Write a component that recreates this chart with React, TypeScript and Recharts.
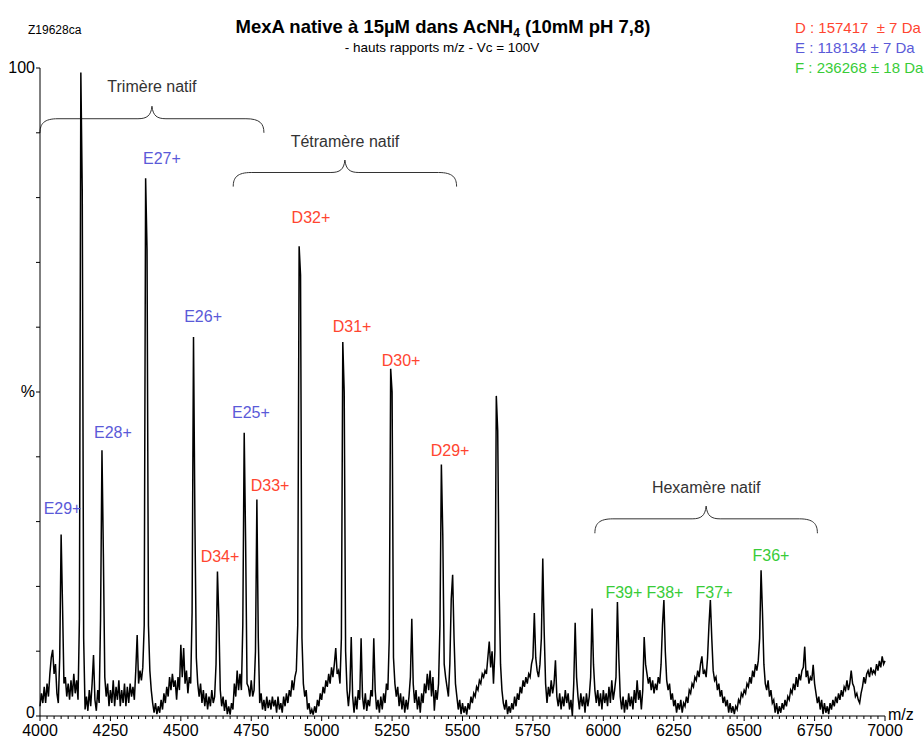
import React from 'react';
import { LineChart, Line, XAxis, YAxis, ReferenceArea, ReferenceDot } from 'recharts';

const FONT = '"Liberation Sans", Arial, sans-serif';
const W = 924;
const H = 738;

const MZ_START = 4000;
const MZ_STEP = 5;

const trace4000 = [
  1.5, 3.5, 2, 4.5, 2, 5, 3, 6.5, 9, 10.2,
  6.5, 8, 3.5, 2, 9, 28, 17, 5, 6, 3,
  5, 2.5, 5.5, 3, 6.5, 3.5, 5.5, 2.5, 15, 99.3,
  81, 12, 1, 3, 0.8, 4, 1.5, 5, 9.4, 2.5,
  0.8, 4, 2, 15, 41, 25, 6, 3, 5, 1.5,
];
const trace4250 = [
  4, 2, 5.5, 1.5, 4.5, 2.5, 5.5, 1.5, 4, 2,
  5, 1.5, 4.5, 2, 5, 3, 4.5, 2.5, 7, 12.5,
  5, 7, 5.5, 7.5, 14, 83, 72, 14, 7, 4,
  2, 0.5, 2, 0.3, 1.5, 0.5, 2.5, 1, 3.5, 2,
  4.5, 3, 6, 4, 6.5, 4.5, 5.5, 2.5, 6, 4,
];
const trace4500 = [
  11, 6, 10.5, 5, 7, 3.5, 6, 5, 16, 58.5,
  30, 9, 5, 3, 5, 2, 4, 1.5, 3.5, 1,
  3, 1.5, 4, 2, 3, 8, 22.3, 15, 4, 1.5,
  3, 0.8, 2.5, 0.3, 1.5, 0.2, 2, 1, 5, 3,
  7, 4, 6.5, 4, 14, 43.7, 27, 5, 4.5, 3,
];
const trace4750 = [
  5.5, 3, 4, 10, 33.4, 12, 2, 3.5, 1, 2.5,
  0.8, 3, 1.2, 2.5, 1, 3, 1.5, 2.5, 0.5, 3,
  1, 2, 0.5, 3, 1.5, 3.5, 2, 4, 3, 5.5,
  4, 6, 7, 14, 72.5, 68, 12, 5, 3, 4,
  1, 2, 0.3, 1, 0.2, 1.5, 0.5, 2.5, 1.5, 3.5,
];
const trace5000 = [
  2.5, 4.5, 3.5, 5.5, 4.5, 6.5, 5, 7.5, 6, 8,
  10.5, 6.5, 7, 5, 12, 57.7, 50, 10, 4, 1.5,
  4, 12.2, 3, 0.5, 3, 1, 4, 2.5, 12, 3,
  1, 3.5, 0.8, 2.5, 1.5, 4, 3, 12, 4, 1,
  2.5, 0.5, 3, 1, 3.5, 2, 5, 4, 12, 53.6,
];
const trace5250 = [
  50, 9, 5, 3, 4.5, 1.5, 3.5, 1, 3, 0.5,
  2.5, 1, 3, 6, 15, 5, 2, 4, 1, 3,
  0.5, 3.5, 2, 5, 3.5, 6.5, 4, 7, 3, 6,
  0.8, 4, 2.5, 5, 14, 38.8, 28, 8, 6, 4.5,
  3, 8, 18, 21.8, 12, 5, 3, 1, 2.5, 0.3,
];
const trace5500 = [
  2, 0.5, 1.5, 0.2, 2, 1, 3, 2, 3.5, 3,
  4.5, 4, 5.5, 5, 6.5, 6, 7, 6.5, 9, 11.5,
  7.5, 10, 5, 10, 49.4, 44, 20, 8, 4, 2,
  1, 2.5, 0.3, 1.5, 0.5, 2, 1, 3, 1.5, 3.5,
  2.5, 4.5, 3.5, 5.5, 4.5, 6, 5, 6.5, 6, 8,
];
const trace5750 = [
  9, 15.9, 9, 7, 6, 8, 12, 24.3, 13, 5,
  2, 4.5, 3, 5.5, 3.5, 5, 8.6, 3, 1.5, 3.5,
  1, 3, 1.5, 4, 2, 3.5, 1, 2.5, 0, 5,
  14.4, 6, 3, 1, 3.5, 1.5, 3, 0.5, 3.5, 1.5,
  3, 6, 16.6, 8, 4, 2, 4, 1.5, 3.5, 1,
];
const trace6000 = [
  4, 2, 3.5, 1.5, 4.5, 2, 5.5, 2.5, 4, 6,
  17.6, 9, 3, 1, 3, 0.5, 2.5, 1, 3.5, 1.5,
  3, 1, 4, 2, 5.5, 2.5, 4, 1, 4, 12.2,
  8, 6.5, 5, 6, 4, 5.5, 3.5, 5, 4, 6,
  5, 8, 14, 17.9, 10, 5.5, 4, 5, 2.5, 3.5,
];
const trace6250 = [
  1.5, 2.5, 0.5, 2, 1, 2.5, 0.5, 2, 1.5, 3,
  2, 4, 3.5, 5, 4.5, 6, 5.5, 7, 6, 8,
  9.2, 6.5, 7, 6, 9, 14, 17.9, 12, 7, 5.5,
  6, 4, 5, 3, 4, 2, 3, 1.5, 2.5, 0.5,
  2, 0.5, 1.5, 0.3, 1.5, 1, 2.5, 2, 3.5, 3,
];
const trace6500 = [
  4, 3.5, 5, 4.5, 6, 5, 7, 6, 8, 7,
  8.5, 12, 22.5, 16, 8, 5, 4, 5.5, 3, 4,
  2, 2.5, 0.5, 2, 0.3, 1.5, 0.5, 2, 1, 2.5,
  1.5, 3, 2.5, 4, 3.5, 5, 4, 6, 4.5, 6.5,
  5.5, 7, 7.5, 10.7, 6, 7, 5, 6, 5.5, 7.9,
];
const trace6750 = [
  5, 3.5, 2, 3, 1, 2.5, 0.3, 2, 0.5, 1.5,
  0.3, 2, 1, 2.5, 1.5, 3, 2, 3.5, 2.5, 4,
  3, 4.5, 4, 5.5, 4, 5, 7, 5, 4.5, 3,
  3.5, 2.5, 2, 3.5, 4.5, 6, 5, 6.5, 7, 6,
  7.5, 6.5, 7, 6.5, 8, 7, 8.5, 7.5, 9.2, 8,
  8.5,
];

// peak annotations: name, label centre (m/z, %)
const peakNames = ['E29+', 'E28+', 'E27+', 'E26+', 'D34+', 'E25+', 'D33+', 'D32+', 'D31+', 'D30+', 'D29+', 'F39+', 'F38+', 'F37+', 'F36+'];
const peakLabelMz = [4080, 4259, 4433, 4579, 4639, 4749, 4817, 4962, 5108, 5282, 5456, 6073, 6219, 6393, 6595];
const peakLabelPct = [32.1, 43.8, 86.1, 61.7, 24.7, 46.8, 35.6, 76.9, 60.2, 54.9, 41.0, 19.1, 19.1, 19.1, 24.8];

// oligomer braces
const braceNames = ['Trimère natif', 'Tétramère natif', 'Hexamère natif'];
const braceFrom = [4000, 4686, 5970];
const braceTo = [4795, 5479, 6760];
const braceBottom = [90.0, 81.7, 28.2];
const braceTop = [94.1, 85.8, 32.4];
const braceTextPct = [97.1, 88.6, 35.3];

const xMajorTicks = [4000, 4250, 4500, 4750, 5000, 5250, 5500, 5750, 6000, 6250, 6500, 6750, 7000];
const X_MINOR_STEP = 25;
const yTicks = [0, 10, 20, 30, 40, 50, 60, 70, 80, 90, 100];
const yTickLabels: Record<number, string> = { 0: '0', 50: '%', 100: '100' };

const series = [
  { key: 'D', text: 'D : 157417  ± 7 Da', color: '#ff4530' },
  { key: 'E', text: 'E : 118134 ± 7 Da', color: '#5a5ad8' },
  { key: 'F', text: 'F : 236268 ± 18 Da', color: '#38cc38' },
];
const colorOf = (name: string) => series.find(s => s.key === name[0])!.color;

const spectrum = [trace4000, trace4250, trace4500, trace4750, trace5000, trace5250, trace5500, trace5750, trace6000, trace6250, trace6500, trace6750]
  .flat()
  .map((pct, i) => ({ mz: MZ_START + i * MZ_STEP, pct }));

const xTicks: number[] = [];
for (let v = xMajorTicks[0]; v <= xMajorTicks[xMajorTicks.length - 1]; v += X_MINOR_STEP) xTicks.push(v);

const XTick = (props: any) => {
  const { x, y, payload } = props;
  const major = xMajorTicks.includes(payload.value);
  return (
    <g>
      <line x1={x} x2={x} y1={y} y2={y + (major ? 5 : 3)} stroke="#000" />
      {major && (
        <text x={x} y={y + 20} textAnchor="middle" fontSize={16} fill="#000" fontFamily={FONT}>
          {payload.value}
        </text>
      )}
    </g>
  );
};

const YTick = (props: any) => {
  const { x, y, payload } = props;
  const label = yTickLabels[payload.value];
  // the "0" sits a little higher so it clears the 4000 label below it
  const dy = payload.value === 0 ? 2 : 5;
  return (
    <g>
      <line x1={x - 4} x2={x} y1={y} y2={y} stroke="#000" />
      {label && (
        <text x={x - 5} y={y + dy} textAnchor="end" fontSize={16} fill="#000" fontFamily={FONT}>
          {label}
        </text>
      )}
    </g>
  );
};

const BraceShape = (props: any) => {
  const { x, y, width: w, height: h } = props;
  const cx = x + w / 2;
  const ly = y + h * 0.47;
  const b = y + h;
  const d = `M${x},${b} C${x},${ly + 5} ${x + 4},${ly} ${x + 18},${ly} L${cx - 14},${ly} C${cx - 5},${ly} ${cx - 1},${ly - 3} ${cx},${y} C${cx + 1},${ly - 3} ${cx + 5},${ly} ${cx + 14},${ly} L${x + w - 18},${ly} C${x + w - 4},${ly} ${x + w},${ly + 5} ${x + w},${b}`;
  return <path d={d} fill="none" stroke="#333" strokeWidth={1} />;
};

const textAt = (text: string, color: string) => (p: any) => (
  <text x={p.cx} y={p.cy} dy="0.35em" textAnchor="middle" fontSize={16} fill={color} fontFamily={FONT}>
    {text}
  </text>
);

export default function App() {
  return (
    <div style={{ position: 'absolute', left: 0, top: 0, width: W, height: H, background: '#fff', fontFamily: FONT }}>
      <LineChart width={W} height={H} data={spectrum} margin={{ top: 68, right: 39, bottom: 0, left: 0 }}>
        <XAxis
          type="number"
          dataKey="mz"
          domain={[4000, 7000]}
          ticks={xTicks}
          interval={0}
          height={22}
          stroke="#000"
          tickLine={false}
          tickSize={0}
          tickMargin={0}
          tick={XTick}
        />
        <YAxis
          type="number"
          domain={[0, 100]}
          ticks={yTicks}
          interval={0}
          width={40}
          stroke="#000"
          tickLine={false}
          tickSize={0}
          tickMargin={0}
          tick={YTick}
        />
        <Line type="linear" dataKey="pct" stroke="#000" strokeWidth={1.5} strokeLinejoin="miter" dot={false} isAnimationActive={false} />
        {braceNames.map((name, i) => (
          <ReferenceArea key={`b-${name}`} x1={braceFrom[i]} x2={braceTo[i]} y1={braceBottom[i]} y2={braceTop[i]} shape={BraceShape} />
        ))}
        {braceNames.map((name, i) => (
          <ReferenceDot
            key={`bt-${name}`}
            x={(braceFrom[i] + braceTo[i]) / 2}
            y={braceTextPct[i]}
            r={0}
            shape={textAt(name, '#333')}
          />
        ))}
        {peakNames.map((name, i) => (
          <ReferenceDot key={name} x={peakLabelMz[i]} y={peakLabelPct[i]} r={0} shape={textAt(name, colorOf(name))} />
        ))}
      </LineChart>
      <svg width={W} height={H} style={{ position: 'absolute', left: 0, top: 0, pointerEvents: 'none' }} fontFamily={FONT}>
        <text x={28} y={34} fontSize={12} fill="#000">Z19628ca</text>
        <text x={443} y={33} textAnchor="middle" fontSize={18.5} fontWeight="bold" fill="#000">
          <tspan>MexA native à 15µM dans AcNH</tspan>
          <tspan fontSize={12} dy={4}>4</tspan>
          <tspan dy={-4}> (10mM pH 7,8)</tspan>
        </text>
        <text x={442} y={52} textAnchor="middle" fontSize={13.5} fill="#000">- hauts rapports m/z - Vc = 100V</text>
        {series.map((s, i) => (
          <text key={s.key} x={795} y={33 + i * 20} fontSize={15} fill={s.color} style={{ whiteSpace: 'pre' }}>
            {s.text}
          </text>
        ))}
        <text x={888} y={720} fontSize={16} fill="#000">m/z</text>
      </svg>
    </div>
  );
}
